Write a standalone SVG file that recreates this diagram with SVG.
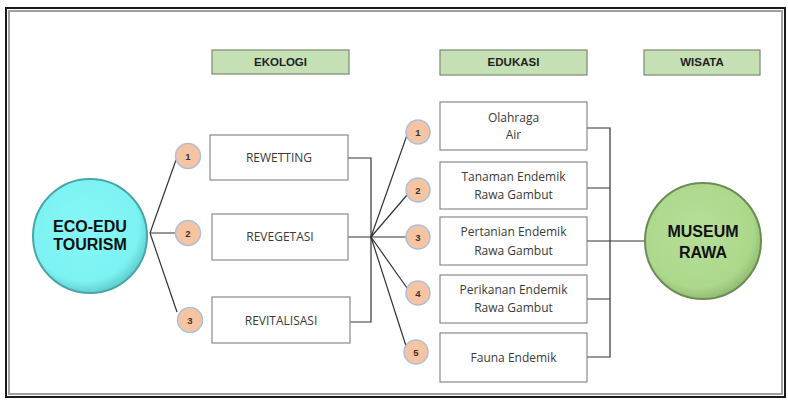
<svg xmlns="http://www.w3.org/2000/svg" width="788" height="401" viewBox="0 0 788 401">
<defs>
<radialGradient id="gCyan" cx="0.45" cy="0.42" r="0.6">
<stop offset="0" stop-color="#86f7f7"/>
<stop offset="0.8" stop-color="#7df2f2"/>
<stop offset="1" stop-color="#5cc9c9"/>
</radialGradient>
<radialGradient id="gGreen" cx="0.45" cy="0.42" r="0.6">
<stop offset="0" stop-color="#b6de98"/>
<stop offset="0.8" stop-color="#acd88c"/>
<stop offset="1" stop-color="#8fb870"/>
</radialGradient>
</defs>
<style>
.frame{fill:#fff;stroke:#1a1a1a;stroke-width:2}
.frame2{fill:none;stroke:#a0a0a0;stroke-width:2}
.hdr{fill:#c5e0b4;stroke:#7b8a72;stroke-width:1.2}
.hdrt{font-family:"Liberation Sans",Arial,sans-serif;font-size:11.5px;font-weight:bold;fill:#222;text-anchor:middle}
.box{fill:#fff;stroke:#8a8a8a;stroke-width:1.2}
.bt{font-family:"Open Sans","Liberation Sans",sans-serif;font-size:12px;fill:#3a3a3a;text-anchor:middle}
.num{fill:#f7c4a2;stroke:#a9c0dc;stroke-width:1.5}
.nt{font-family:"Liberation Sans",Arial,sans-serif;font-size:9.5px;font-weight:bold;fill:#333;text-anchor:middle}
.ln{fill:none;stroke:#333;stroke-width:1.2}
.big{font-family:"Liberation Sans",Arial,sans-serif;font-weight:bold;fill:#111;text-anchor:middle}
</style>
<rect x="6" y="8" width="779" height="389" class="frame"/>
<rect x="9" y="11" width="773" height="383" class="frame2"/>

<g id="connectors">
<path class="ln" d="M150 233 L176 160 M150 233 L175 233 M150 233 L177 312"/>
<path class="ln" d="M348 158 H371 V322 H350 M348 237 H371"/>
<path class="ln" d="M371 237 L407 135 M371 237 L407 195 M371 237 L406 237 M371 237 L407 288 M371 237 L406 346"/>
<path class="ln" d="M587 128 H610 V357 H587 M587 188 H610 M587 241 H645 M587 299 H610"/>
</g>

<g id="hdr-ekologi"><rect x="212" y="50" width="137" height="24" class="hdr"/><text x="280.5" y="66" class="hdrt">EKOLOGI</text></g>
<g id="hdr-edukasi"><rect x="440" y="50" width="147" height="25" class="hdr"/><text x="513.5" y="66" class="hdrt">EDUKASI</text></g>
<g id="hdr-wisata"><rect x="644" y="50" width="116" height="25" class="hdr"/><text x="702" y="66" class="hdrt">WISATA</text></g>

<g id="eco-edu">
<circle cx="90" cy="236" r="57" fill="url(#gCyan)" stroke="#4aa6a6" stroke-width="2"/>
<text x="90" y="232" class="big" font-size="16">ECO-EDU</text>
<text x="90" y="250" class="big" font-size="16">TOURISM</text>
</g>

<g id="n-l1"><circle cx="188" cy="156" r="12.5" class="num"/><text x="188" y="159.5" class="nt">1</text></g>
<g id="n-l2"><circle cx="188" cy="233" r="12.5" class="num"/><text x="188" y="236.5" class="nt">2</text></g>
<g id="n-l3"><circle cx="190" cy="320" r="12.5" class="num"/><text x="190" y="323.5" class="nt">3</text></g>

<g id="rewetting"><rect x="210" y="135" width="138" height="45" class="box"/><text x="279" y="162" class="bt">REWETTING</text></g>
<g id="revegetasi"><rect x="212" y="214" width="136" height="46" class="box"/><text x="280" y="241" class="bt">REVEGETASI</text></g>
<g id="revitalisasi"><rect x="212" y="297" width="138" height="46" class="box"/><text x="281" y="325" class="bt">REVITALISASI</text></g>

<g id="n-r1"><circle cx="418" cy="132" r="12" class="num"/><text x="418" y="135.5" class="nt">1</text></g>
<g id="n-r2"><circle cx="418" cy="190" r="12" class="num"/><text x="418" y="193.5" class="nt">2</text></g>
<g id="n-r3"><circle cx="418" cy="237" r="12" class="num"/><text x="418" y="240.5" class="nt">3</text></g>
<g id="n-r4"><circle cx="418" cy="293" r="12" class="num"/><text x="418" y="296.5" class="nt">4</text></g>
<g id="n-r5"><circle cx="416" cy="352" r="12" class="num"/><text x="416" y="355.5" class="nt">5</text></g>

<g id="olahraga"><rect x="440" y="102" width="147" height="48" class="box"/><text x="513.5" y="122" class="bt">Olahraga</text><text x="513.5" y="139" class="bt">Air</text></g>
<g id="tanaman"><rect x="440" y="162" width="147" height="47" class="box"/><text x="513.5" y="181" class="bt">Tanaman Endemik</text><text x="513.5" y="199" class="bt">Rawa Gambut</text></g>
<g id="pertanian"><rect x="440" y="217" width="147" height="48" class="box"/><text x="513.5" y="236" class="bt">Pertanian Endemik</text><text x="513.5" y="255" class="bt">Rawa Gambut</text></g>
<g id="perikanan"><rect x="440" y="275" width="147" height="48" class="box"/><text x="513.5" y="294" class="bt">Perikanan Endemik</text><text x="513.5" y="312" class="bt">Rawa Gambut</text></g>
<g id="fauna"><rect x="440" y="333" width="147" height="49" class="box"/><text x="513.5" y="362" class="bt">Fauna Endemik</text></g>

<g id="museum">
<circle cx="703" cy="241" r="58" fill="url(#gGreen)" stroke="#6b8c52" stroke-width="2"/>
<text x="703" y="237" class="big" font-size="16">MUSEUM</text>
<text x="703" y="258" class="big" font-size="16">RAWA</text>
</g>
</svg>
